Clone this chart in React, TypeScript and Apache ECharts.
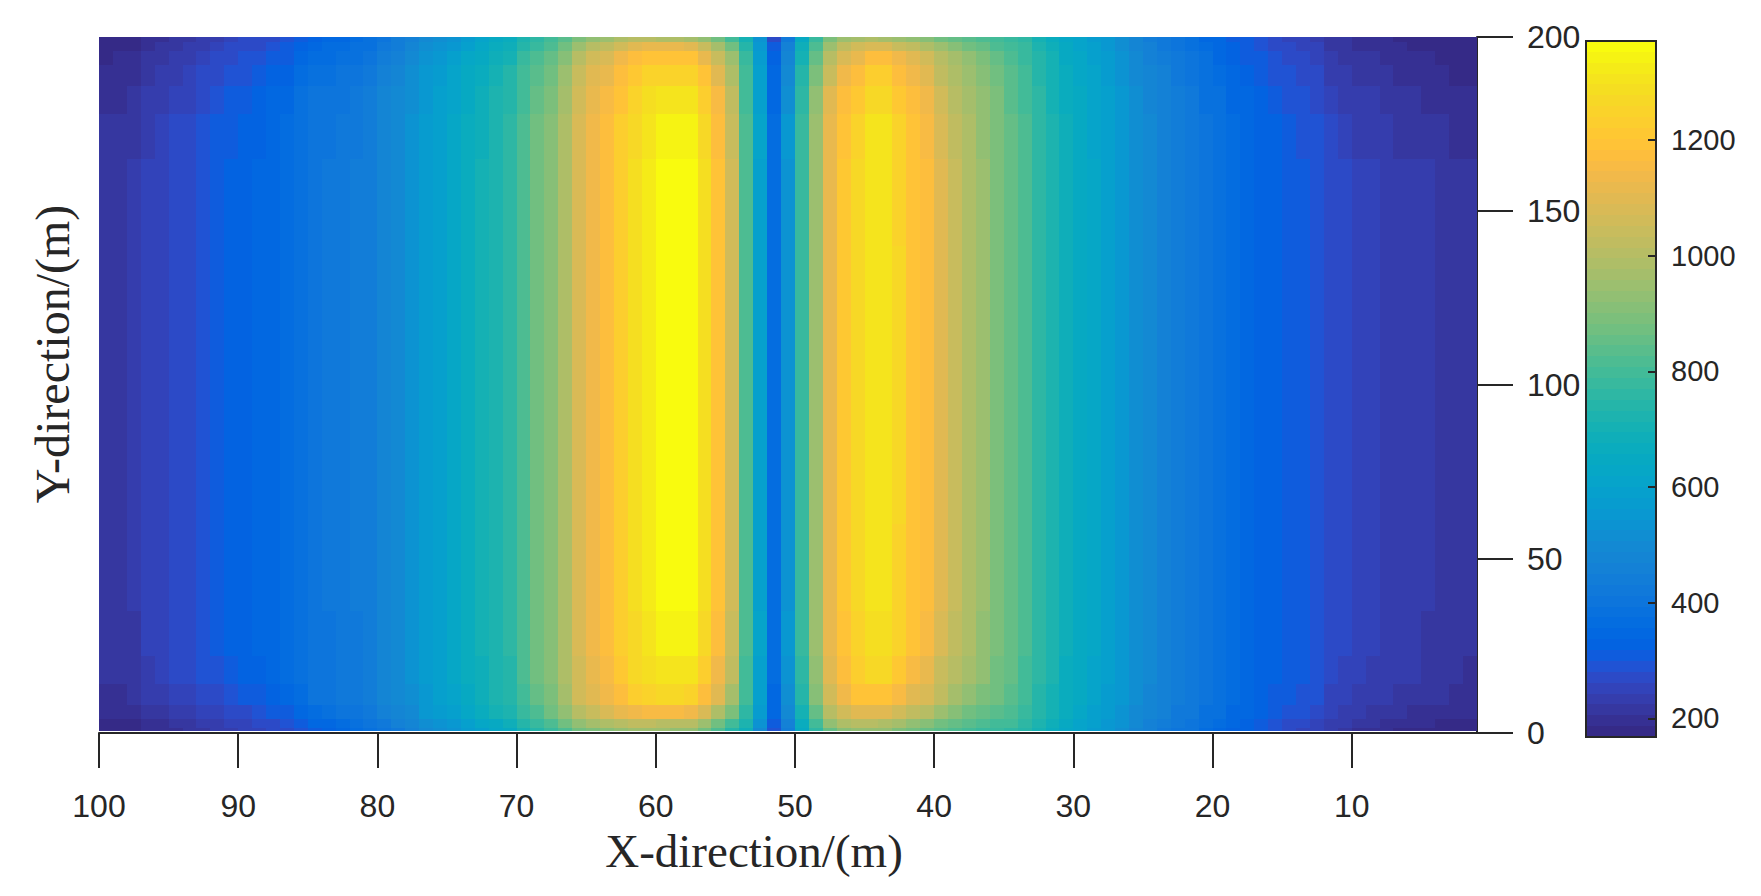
import React, { useEffect, useRef } from "react";
import * as echarts from "echarts";

// row limits in y (m), bottom to top; the first one leaves the thin white gap above the x axis
const Y_BREAKS = [0.5, 1.5, 4, 8, 14, 22, 35, 60, 140, 165, 178, 186, 192, 196, 198.5, 200];

// first column is x = 99..100, last column is x = 1..2
const HEAT_ROWS: number[][] = [
  [170,172,175,192,197,205,208,222,225,238,245,252,262,275,295,318,335,352,368,385,405,430,455,490,512,535,570,595,620,640,695,740,770,815,870,900,915,930,945,945,940,930,920,875,815,745,680,500,285,440,640,760,860,910,925,930,925,900,880,860,830,810,790,775,770,765,740,700,665,630,605,575,550,520,485,455,430,410,395,370,355,335,320,300,285,270,258,245,225,218,200,195,190,185,182,180,178,174,172],
  [178,180,184,200,205,213,218,232,235,250,258,266,276,288,310,338,352,366,380,395,430,452,475,510,535,560,598,625,655,680,735,780,815,870,925,960,985,1005,1015,1015,1012,1010,1000,945,880,800,720,535,310,465,670,800,925,985,1000,1000,995,965,935,915,880,855,830,815,805,790,760,715,680,645,618,590,562,530,497,465,442,420,405,382,367,348,333,315,298,280,270,258,238,230,210,206,200,195,192,188,185,180,178],
  [190,193,197,215,222,235,240,252,255,272,280,288,300,315,340,368,382,394,405,420,455,480,505,545,565,590,630,660,695,720,775,825,865,930,1000,1040,1075,1110,1135,1150,1155,1150,1140,1075,995,895,760,565,340,490,705,850,1000,1070,1095,1095,1090,1060,1025,1000,950,915,880,855,835,815,785,735,695,660,630,600,570,535,505,475,452,430,415,392,375,355,340,325,310,295,285,272,250,243,225,220,213,208,204,200,197,190,188],
  [200,204,208,230,238,250,256,275,280,298,305,315,330,345,372,395,406,413,423,438,472,497,522,560,585,610,650,680,715,742,800,855,895,965,1055,1095,1135,1180,1225,1250,1262,1260,1245,1180,1090,975,790,585,355,515,745,905,1065,1145,1185,1190,1190,1150,1105,1080,1015,970,930,895,865,835,800,750,710,670,640,610,580,548,515,485,460,437,422,398,382,362,347,332,318,305,295,283,258,252,240,235,228,222,218,214,210,202,198],
  [208,212,216,240,248,262,268,288,295,315,322,330,345,358,385,405,412,419,429,444,478,503,528,567,592,622,660,690,725,750,812,865,905,980,1070,1120,1160,1210,1265,1290,1310,1310,1300,1235,1145,1025,805,600,365,535,765,930,1095,1180,1235,1260,1260,1215,1160,1125,1050,1005,960,920,880,845,805,755,715,675,645,615,585,552,518,490,464,440,424,400,384,364,349,335,322,312,302,291,266,260,248,243,235,229,225,221,217,208,205],
  [213,218,222,247,255,268,275,295,302,322,330,338,353,365,392,410,412,420,430,445,480,505,530,570,595,625,665,695,730,755,818,873,912,987,1077,1130,1170,1222,1275,1312,1345,1350,1340,1270,1175,1045,808,605,368,545,775,945,1112,1200,1255,1295,1295,1245,1188,1150,1075,1028,980,935,895,850,810,760,720,680,650,620,590,555,520,490,465,440,425,400,385,365,350,335,325,315,305,295,270,263,250,245,237,231,227,224,220,212,209],
  [215,220,225,250,258,272,278,298,305,325,332,340,355,365,392,408,415,422,432,445,480,505,530,570,595,625,665,695,730,755,820,875,915,990,1080,1135,1175,1230,1285,1322,1355,1368,1360,1285,1188,1060,810,590,370,540,780,950,1120,1208,1265,1307,1307,1258,1200,1165,1090,1040,990,945,900,850,810,760,720,680,650,620,590,555,520,490,465,440,425,400,385,365,350,335,325,315,305,295,272,265,250,245,238,232,228,225,222,215,210],
  [215,220,225,250,258,272,278,298,305,325,332,340,355,365,392,408,415,422,432,445,480,505,530,570,595,625,665,695,730,755,820,875,915,990,1080,1135,1175,1230,1285,1325,1360,1371,1365,1290,1190,1060,810,590,370,540,780,950,1120,1210,1270,1310,1310,1260,1200,1165,1090,1040,990,945,900,850,810,760,720,680,650,620,590,555,520,490,465,440,425,400,385,365,350,335,325,315,305,295,272,265,250,245,238,232,228,225,222,215,210],
  [215,220,225,250,258,272,278,298,305,325,332,340,355,365,392,408,415,422,432,445,480,505,530,570,595,625,665,695,730,755,820,875,915,990,1080,1135,1175,1230,1285,1322,1358,1368,1362,1288,1188,1060,810,590,370,540,780,950,1120,1208,1265,1306,1306,1258,1200,1165,1090,1040,990,945,900,850,810,760,720,680,650,620,590,555,520,490,465,440,425,400,385,365,350,335,325,315,305,295,272,265,250,245,238,232,228,225,222,215,210],
  [210,215,220,243,252,265,272,290,300,318,325,334,348,360,388,406,412,420,430,443,478,503,528,568,593,623,662,692,727,752,815,870,910,985,1075,1130,1168,1222,1275,1312,1345,1350,1340,1270,1175,1045,808,605,365,545,775,945,1110,1198,1250,1300,1298,1245,1188,1150,1075,1028,980,935,895,848,808,758,718,678,648,618,588,553,518,488,463,438,423,398,383,362,346,331,320,310,298,288,262,255,243,238,230,224,220,217,214,204,200],
  [200,204,210,232,240,252,258,278,290,308,315,324,338,350,378,398,405,412,422,435,470,495,520,560,585,618,655,685,720,745,805,860,895,970,1060,1120,1150,1200,1250,1285,1305,1310,1300,1235,1150,1030,805,600,355,525,760,925,1090,1175,1220,1270,1268,1220,1165,1130,1055,1010,965,925,885,842,803,753,713,673,643,613,583,548,513,483,458,433,418,393,375,355,338,322,310,298,285,275,250,243,230,225,218,212,208,205,202,195,190],
  [190,194,198,222,230,240,246,262,275,292,298,306,320,333,360,382,392,400,410,424,458,482,507,548,572,605,645,675,708,733,790,842,878,950,1040,1095,1125,1170,1215,1245,1258,1255,1245,1185,1105,990,790,590,340,505,735,895,1050,1130,1180,1225,1222,1180,1130,1095,1030,985,945,905,868,830,793,745,705,665,635,605,575,540,505,475,450,425,410,385,365,345,328,312,298,285,272,262,238,232,220,215,208,202,198,195,192,186,183],
  [185,188,192,212,220,230,236,250,262,280,285,292,305,318,342,362,374,382,392,406,440,465,490,530,555,585,625,655,685,710,770,818,850,915,1000,1060,1085,1130,1170,1190,1198,1195,1185,1125,1045,940,770,575,320,480,710,860,1005,1075,1125,1170,1168,1130,1090,1060,1000,960,920,885,850,820,785,735,695,655,625,595,565,530,495,465,440,415,400,375,355,335,318,302,288,275,262,252,228,222,212,207,200,195,191,188,185,180,178],
  [178,180,184,203,210,220,225,240,250,265,270,278,290,303,325,345,358,368,378,392,425,448,472,510,535,560,600,630,660,685,740,785,815,875,950,1000,1030,1070,1105,1115,1115,1110,1100,1040,965,870,740,555,300,455,680,820,955,1020,1060,1085,1080,1050,1020,995,950,915,880,850,825,800,770,725,685,645,615,585,555,520,485,455,430,405,390,365,345,325,308,292,280,268,255,245,222,216,205,200,194,189,185,182,180,176,174],
  [172,175,178,196,202,212,218,232,240,255,262,270,280,292,310,328,342,355,368,385,412,435,458,495,518,540,580,610,640,665,720,765,790,840,900,930,955,985,1000,1000,995,990,975,920,870,790,700,535,280,430,650,780,900,950,975,980,975,950,930,910,880,855,830,810,790,780,755,710,670,635,605,575,545,510,475,445,420,395,380,355,338,318,300,285,272,260,248,238,215,210,198,194,188,183,179,177,175,172,170],
];

const X_TICKS = [100, 90, 80, 70, 60, 50, 40, 30, 20, 10];
const COLOR_MIN = 168;
const COLOR_MAX = 1371;
const COLORBAR_TICKS = [200, 400, 600, 800, 1000, 1200];

// parula, 64 steps
const PARULA = [
  [0.2081,0.1663,0.5292],[0.2116,0.1898,0.5777],[0.2123,0.2138,0.627],[0.2081,0.2386,0.6771],
  [0.1959,0.2645,0.7279],[0.1707,0.2919,0.7792],[0.1253,0.3242,0.8303],[0.0591,0.3598,0.8683],
  [0.0117,0.3875,0.882],[0.006,0.4086,0.8828],[0.0165,0.4266,0.8786],[0.0329,0.443,0.872],
  [0.0498,0.4586,0.8641],[0.0629,0.4737,0.8554],[0.0723,0.4887,0.8467],[0.0779,0.504,0.8384],
  [0.0793,0.52,0.8312],[0.0749,0.5375,0.8263],[0.0641,0.557,0.824],[0.0488,0.5772,0.8228],
  [0.0343,0.5966,0.8199],[0.0265,0.6137,0.8135],[0.0239,0.6287,0.8038],[0.0231,0.6418,0.7913],
  [0.0228,0.6535,0.7768],[0.0267,0.6642,0.7607],[0.0384,0.6743,0.7436],[0.059,0.6838,0.7254],
  [0.0843,0.6928,0.7062],[0.1133,0.7015,0.6859],[0.1453,0.7098,0.6646],[0.1801,0.7177,0.6424],
  [0.2178,0.725,0.6193],[0.2586,0.7317,0.5954],[0.3022,0.7376,0.5712],[0.3482,0.7424,0.5473],
  [0.3953,0.7459,0.5244],[0.442,0.7481,0.5033],[0.4871,0.7491,0.484],[0.53,0.7491,0.4661],
  [0.5709,0.7485,0.4494],[0.6099,0.7473,0.4337],[0.6473,0.7456,0.4188],[0.6834,0.7435,0.4044],
  [0.7184,0.7411,0.3905],[0.7525,0.7384,0.3768],[0.7858,0.7356,0.3633],[0.8185,0.7327,0.3498],
  [0.8507,0.7299,0.336],[0.8824,0.7274,0.3217],[0.9139,0.7258,0.3063],[0.945,0.7261,0.2886],
  [0.9739,0.7314,0.2666],[0.9938,0.7455,0.2403],[0.999,0.7653,0.2164],[0.9955,0.7861,0.1967],
  [0.988,0.8066,0.1794],[0.9789,0.8271,0.1633],[0.9697,0.8481,0.1475],[0.9626,0.8705,0.1309],
  [0.9589,0.8949,0.1132],[0.9598,0.9218,0.0948],[0.9661,0.9514,0.0755],[0.9763,0.9831,0.0538],
];

const INK = "#262626";
const SANS = "Liberation Sans";
const SERIF = "Liberation Serif";

const parulaAt = (v: number) => {
  const i = Math.floor(((v - COLOR_MIN) / (COLOR_MAX - COLOR_MIN)) * PARULA.length);
  const c = PARULA[Math.max(0, Math.min(PARULA.length - 1, i))];
  return `rgb(${Math.round(c[0] * 255)},${Math.round(c[1] * 255)},${Math.round(c[2] * 255)})`;
};

// [x0, x1, y0, y1, value]
const heatCells = HEAT_ROWS.flatMap((row, r) =>
  row.map((v, c) => [100 - c - 1, 100 - c, Y_BREAKS[r], Y_BREAKS[r + 1], v])
);
const barStep = (COLOR_MAX - COLOR_MIN) / PARULA.length;
const barCells = PARULA.map((_, i) => {
  const lo = COLOR_MIN + i * barStep;
  return [0, 1, lo, lo + barStep, lo + barStep / 2];
});

// one rect per cell, snapped to whole pixels so no seams show
const renderCell = (_: any, api: any) => {
  const a = api.coord([api.value(0), api.value(2)]);
  const b = api.coord([api.value(1), api.value(3)]);
  const x = Math.round(Math.min(a[0], b[0]));
  const y = Math.round(Math.min(a[1], b[1]));
  return {
    type: "rect",
    shape: {
      x,
      y,
      width: Math.round(Math.max(a[0], b[0])) - x,
      height: Math.round(Math.max(a[1], b[1])) - y,
    },
    style: { fill: parulaAt(api.value(4)) },
  };
};

const App: React.FC = () => {
  const ref = useRef<HTMLDivElement>(null);

  useEffect(() => {
    if (!ref.current) return;
    const chart = echarts.init(ref.current, null, { renderer: "svg" });
    chart.setOption({
      animation: false,
      backgroundColor: "#fff",
      grid: [
        { left: 99, top: 37, width: 1378, height: 696 },
        { left: 1586, top: 41, width: 70, height: 696 },
      ],
      xAxis: [
        {
          type: "value",
          gridIndex: 0,
          inverse: true,
          min: 1,
          max: 100,
          position: "bottom",
          splitLine: { show: false },
          axisLine: { show: true, onZero: false, lineStyle: { color: INK, width: 2 } },
          axisTick: {
            show: true,
            length: 35,
            lineStyle: { color: INK, width: 2 },
            customValues: X_TICKS,
          },
          axisLabel: {
            color: INK,
            fontFamily: SANS,
            fontSize: 32,
            margin: 57,
            customValues: X_TICKS,
          },
        },
        { type: "value", gridIndex: 1, min: 0, max: 1, show: false },
      ],
      yAxis: [
        {
          type: "value",
          gridIndex: 0,
          min: 0,
          max: 200,
          interval: 50,
          position: "right",
          splitLine: { show: false },
          axisLine: { show: true, onZero: false, lineStyle: { color: INK, width: 2 } },
          axisTick: { show: true, length: 36, lineStyle: { color: INK, width: 2 } },
          axisLabel: {
            color: INK,
            fontFamily: SANS,
            fontSize: 32,
            margin: 50,
            padding: [5, 0, 0, 0],
          },
        },
        {
          type: "value",
          gridIndex: 1,
          min: COLOR_MIN,
          max: COLOR_MAX,
          position: "right",
          z: 10,
          splitLine: { show: false },
          axisLine: { show: false, onZero: false },
          axisTick: {
            show: true,
            inside: true,
            length: 8,
            lineStyle: { color: INK, width: 2 },
            customValues: COLORBAR_TICKS,
          },
          axisLabel: {
            color: INK,
            fontFamily: SANS,
            fontSize: 29,
            margin: 15,
            customValues: COLORBAR_TICKS,
            formatter: (v: number) => String(v),
          },
        },
      ],
      series: [
        {
          type: "custom",
          xAxisIndex: 0,
          yAxisIndex: 0,
          silent: true,
          encode: { x: [0, 1], y: [2, 3] },
          data: heatCells,
          renderItem: renderCell,
        },
        {
          type: "custom",
          xAxisIndex: 1,
          yAxisIndex: 1,
          silent: true,
          encode: { x: [0, 1], y: [2, 3] },
          data: barCells,
          renderItem: renderCell,
        },
      ],
      graphic: [
        {
          type: "rect",
          z: 100,
          silent: true,
          shape: { x: 1586, y: 41, width: 70, height: 696 },
          style: { fill: "none", stroke: INK, lineWidth: 2 },
        },
        {
          type: "text",
          x: 754,
          y: 851,
          style: {
            text: "X-direction/(m)",
            fill: INK,
            font: `47px "${SERIF}"`,
            textAlign: "center",
            textVerticalAlign: "middle",
          },
        },
        {
          type: "text",
          x: 52,
          y: 354,
          rotation: Math.PI / 2,
          style: {
            text: "Y-direction/(m)",
            fill: INK,
            font: `48px "${SERIF}"`,
            textAlign: "center",
            textVerticalAlign: "middle",
          },
        },
      ],
    });
    return () => chart.dispose();
  }, []);

  return (
    <div
      ref={ref}
      style={{ position: "fixed", left: 0, top: 0, width: 1761, height: 896 }}
    />
  );
};

export default App;
